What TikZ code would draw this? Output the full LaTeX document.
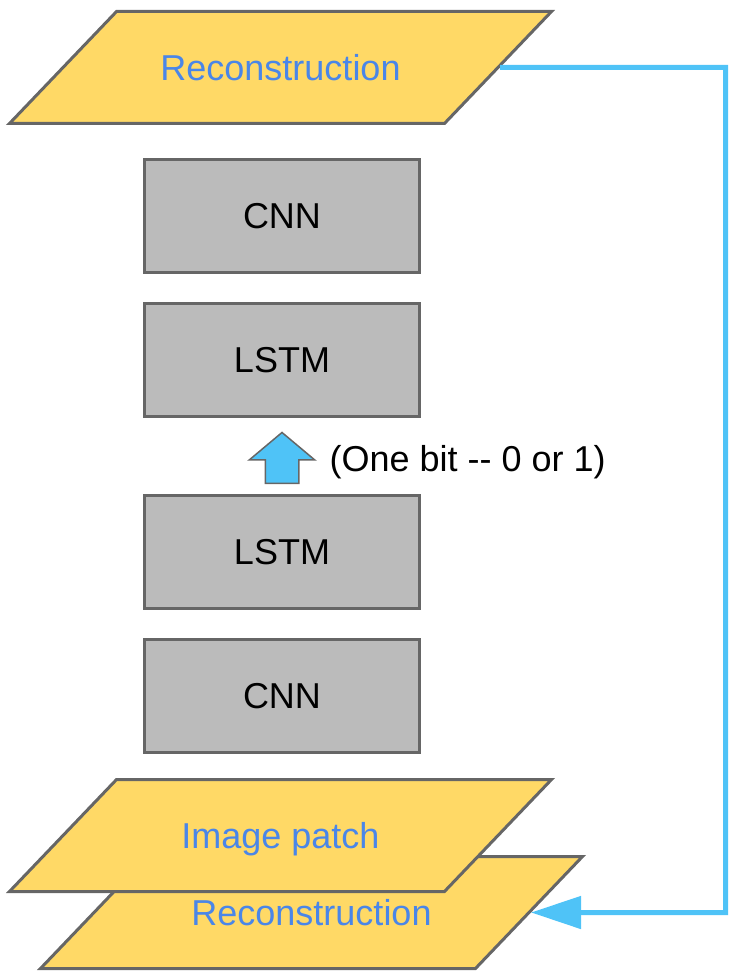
\documentclass[tikz,border=0pt]{standalone}
\usepackage{fontspec}
\setmainfont{Liberation Sans}
\usetikzlibrary{positioning,arrows.meta,shapes.geometric,shapes.arrows}
\definecolor{padyellow}{HTML}{FFD966}
\definecolor{edgegray}{HTML}{666666}
\definecolor{boxgray}{HTML}{BBBBBB}
\definecolor{textblue}{HTML}{4A86E8}
\definecolor{linkblue}{HTML}{4FC3F7}
\tikzset{
  figpatch/.style={trapezium, trapezium left angle=46.3, trapezium right angle=133.7,
    trapezium stretches body=true, draw=edgegray, line width=3pt, fill=padyellow,
    minimum width=542pt, minimum height=112pt, inner xsep=0pt, inner ysep=43pt,
    text height=26pt, text depth=0pt,
    text=textblue, font=\fontsize{36}{40}\selectfont},
  figlayer/.style={draw=edgegray, line width=3pt, fill=boxgray,
    minimum width=275pt, minimum height=113pt, font=\fontsize{36}{40}\selectfont},
  figup/.style={single arrow, shape border rotate=90, draw=edgegray, line width=1.5pt,
    fill=linkblue, inner xsep=16pt, inner ysep=0pt, minimum width=64pt, minimum height=51pt,
    single arrow head extend=16pt, single arrow tip angle=100},
  figlink/.style={-{Triangle[length=50pt,width=32pt]}, line width=5pt, draw=linkblue},
  figlabel/.style={font=\fontsize{36}{40}\selectfont, anchor=west},
}

\begin{document}
\begin{tikzpicture}[x=1pt, y=-1pt]
  \useasboundingbox (0,0) rectangle (731,971);
  % output side
  \node[figpatch] (out) at (280.5,67.5) {Reconstruction};
  \node[figlayer] (cnnd) at (282,216) {CNN};
  \node[figlayer] (lstmd) at (282,360) {LSTM};
  % the code
  \node[figup] (bit) at (282,465) {};
  \node[figlabel] (bitlabel) at (326,462) {(One bit -{}- 0 or 1)};
  % input side
  \node[figlayer] (lstme) at (282,552) {LSTM};
  \node[figlayer] (cnne) at (282,696) {CNN};
  \node[figpatch] (prev) at (311.5,912.5) {Reconstruction};
  \node[figpatch] (patch) at (280.5,835.5) {Image patch};
  \coordinate (turn) at (725.5,67.5);
  \draw[figlink] (out.east) -- (turn) |- (prev.east);
\end{tikzpicture}
\end{document}
